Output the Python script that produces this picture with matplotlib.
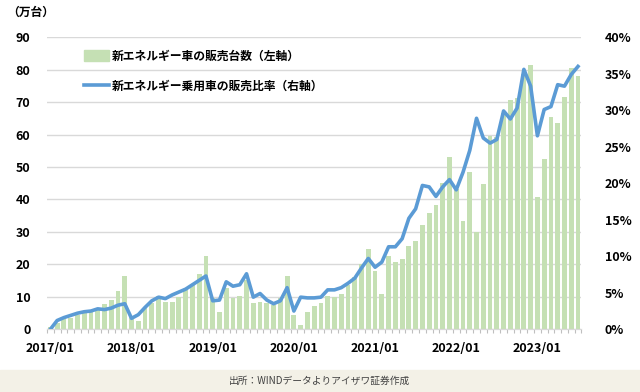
import numpy as np
import matplotlib.pyplot as plt
from matplotlib.patches import Rectangle, Patch
from matplotlib.lines import Line2D

plt.rcParams['font.family'] = ['Noto Sans CJK JP', 'DejaVu Sans']

# monthly NEV sales (10k units), 2017/01 - 2023/07
sales_2017 = [0.7, 1.8, 3.1, 3.4, 4.5, 5.0, 5.6, 6.5, 7.8, 8.9, 11.7, 16.3]
sales_2018 = [4.1, 2.5, 6.8, 8.2, 10.2, 8.4, 8.4, 10.1, 12.1, 13.8, 17.0, 22.5]
sales_2019 = [9.6, 5.3, 12.6, 9.7, 10.4, 15.2, 8.0, 8.5, 8.0, 7.5, 9.5, 16.3]
sales_2020 = [4.4, 1.3, 5.3, 7.2, 8.2, 10.4, 9.8, 10.9, 13.8, 16.0, 20.0, 24.8]
sales_2021 = [17.9, 11.0, 22.6, 20.6, 21.7, 25.6, 27.1, 32.1, 35.7, 38.3, 45.0, 53.1]
sales_2022 = [43.1, 33.4, 48.4, 29.9, 44.7, 59.6, 59.3, 66.6, 70.8, 71.4, 78.6, 81.4]
sales_2023 = [40.8, 52.5, 65.3, 63.6, 71.7, 80.6, 78.0]

# share of NEV in passenger car sales (%)
share_2017 = [0.0, 1.2, 1.6, 1.9, 2.2, 2.4, 2.5, 2.8, 2.7, 2.9, 3.3, 3.5]
share_2018 = [1.5, 2.0, 3.0, 3.9, 4.4, 4.2, 4.7, 5.1, 5.5, 6.1, 6.7, 7.3]
share_2019 = [3.9, 4.0, 6.5, 5.9, 6.1, 7.6, 4.4, 4.9, 4.0, 3.5, 3.9, 5.7]
share_2020 = [2.5, 4.4, 4.3, 4.3, 4.4, 5.4, 5.4, 5.7, 6.3, 7.0, 8.4, 9.7]
share_2021 = [8.5, 9.2, 11.3, 11.3, 12.4, 15.2, 16.5, 19.7, 19.5, 18.2, 19.5, 20.5]
share_2022 = [19.1, 21.5, 24.5, 28.9, 26.2, 25.5, 26.0, 29.9, 28.8, 30.3, 35.6, 33.3]
share_2023 = [26.5, 30.1, 30.5, 33.5, 33.3, 34.9, 36.0]

sales = sales_2017 + sales_2018 + sales_2019 + sales_2020 + sales_2021 + sales_2022 + sales_2023
share = share_2017 + share_2018 + share_2019 + share_2020 + share_2021 + share_2022 + share_2023
year_labels = ['2017/01', '2018/01', '2019/01', '2020/01', '2021/01', '2022/01', '2023/01']

x = np.arange(len(sales))

fig = plt.figure(figsize=(6.4, 3.92), dpi=100)
ax = fig.add_axes([0.0734, 0.160, 0.835, 0.745])
ax2 = ax.twinx()

ax.bar(x, sales, width=0.72, color='#C5E0B4', zorder=2)
ax2.plot(x, share, color='#5B9BD5', lw=2.6, solid_joinstyle='round', zorder=3)

ax.set_xlim(-0.5, len(sales) - 0.5)
ax.set_ylim(0, 90)
ax.set_yticks(np.arange(0, 91, 10))
ax2.set_ylim(0, 40)
ax2.set_yticks(np.arange(0, 41, 5))
ax2.set_yticklabels([f'{v}%' for v in range(0, 41, 5)])

ax.set_xticks(np.arange(0, len(sales), 12))
ax.set_xticklabels(year_labels)
ax.set_xticks(np.arange(-0.5, len(sales), 1), minor=True)
ax.tick_params(axis='x', which='major', length=0, pad=9, labelsize=9)
ax.tick_params(axis='x', which='minor', length=3, color='#BFBFBF', width=0.8)
ax.tick_params(axis='y', length=0, pad=12, labelsize=9)
ax2.tick_params(axis='y', length=0, pad=17, labelsize=9)
for lab in ax.get_xticklabels() + ax.get_yticklabels() + ax2.get_yticklabels():
    lab.set_fontweight('bold')

ax.grid(axis='y', color='#D9D9D9', lw=1)
ax.set_axisbelow(True)
for a in (ax, ax2):
    for s in ('top', 'left', 'right'):
        a.spines[s].set_visible(False)
    a.spines['bottom'].set_color('#D9D9D9')

handles = [Patch(color='#C5E0B4'), Line2D([], [], color='#5B9BD5', lw=2.6)]
labels = ['新エネルギー車の販売台数（左軸）', '新エネルギー乗用車の販売比率（右軸）']
leg = ax2.legend(handles, labels, loc='upper left', bbox_to_anchor=(0.05, 0.995),
                 frameon=False, prop={'size': 8.5, 'weight': 'bold'},
                 handlelength=2.1, handleheight=1.0, handletextpad=0.2, labelspacing=1.45)

fig.text(0.012, 0.968, '（万台）', fontsize=8.5, fontweight='bold', va='center')

fig.patches.append(Rectangle((0, 0), 1, 22 / 392, transform=fig.transFigure,
                             color='#F3F1E7', zorder=0))
fig.text(0.5, 11 / 392, '出所：WINDデータよりアイザワ証券作成', fontsize=7,
         color='#404040', ha='center', va='center')

fig.savefig('out.png', dpi=100)
